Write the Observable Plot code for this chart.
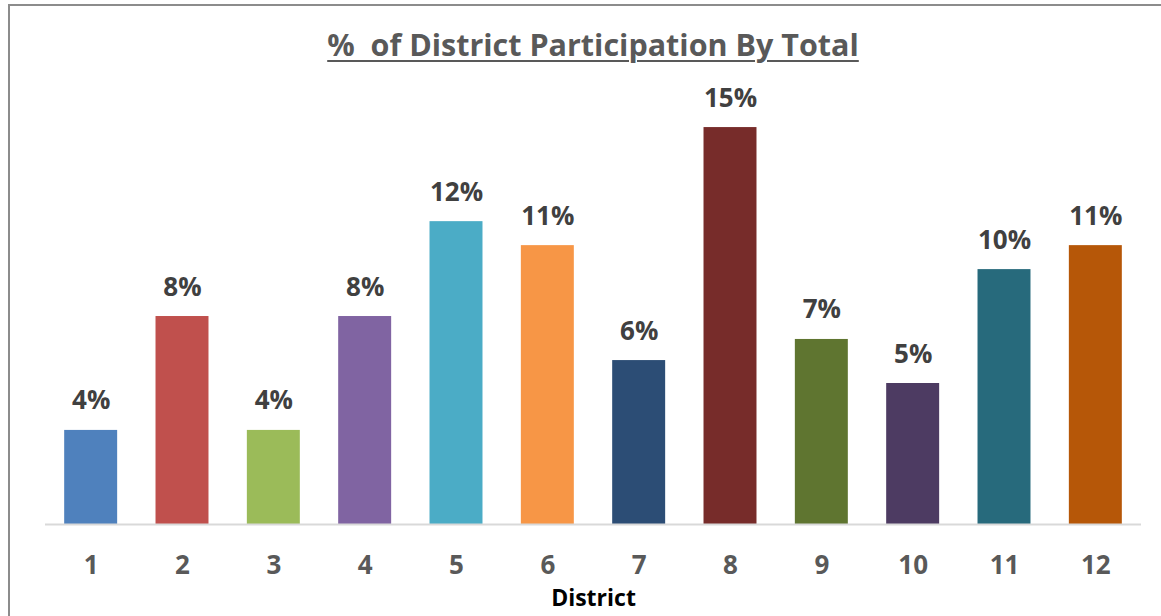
<!DOCTYPE html>
<html>
<head>
<meta charset="utf-8">
<script src="https://cdn.jsdelivr.net/npm/d3@7"></script>
<script src="https://cdn.jsdelivr.net/npm/@observablehq/plot@0.6"></script>
<style>
  html, body { margin: 0; padding: 0; background: #fff; }
  body { width: 1161px; height: 616px; position: relative; overflow: hidden; font-family: "Open Sans", sans-serif; }
  #frame { position: absolute; left: 8px; top: 4px; width: 1200px; height: 700px; border-top: 2px solid #8c8c8c; border-left: 2px solid #8c8c8c; box-sizing: border-box; }
  #title { position: absolute; left: 0; width: 1186px; top: 23px; text-align: center; font-weight: 700; font-size: 30.5px; color: #595959; text-decoration: underline; text-decoration-thickness: 2px; text-underline-offset: 4px; white-space: nowrap; }
  #chart { position: absolute; left: 0; top: 0; }
</style>
</head>
<body>
<div id="frame"></div>
<div id="title">%&nbsp; of District Participation By Total</div>
<div id="chart"></div>
<script>
const districts = ["1","2","3","4","5","6","7","8","9","10","11","12"];
const shares = [3.61, 7.98, 3.61, 7.98, 11.62, 10.70, 6.29, 15.23, 7.10, 5.41, 9.78, 10.70];
const barColors = ["#4F81BD","#C0504D","#9BBB59","#8064A2","#4BACC6","#F79646","#2C4D75","#772C2A","#5F7530","#4D3B62","#276A7C","#B65708"];
const axisTitle = "District";

const data = districts.map((d, i) => ({district: d, share: shares[i], color: barColors[i]}));

const chart = Plot.plot({
  width: 1161,
  height: 616,
  marginLeft: 45,
  marginRight: 20,
  marginTop: 107,
  marginBottom: 92,
  style: {fontFamily: "'Open Sans', sans-serif", background: "transparent"},
  x: {domain: districts, paddingInner: 0.42, paddingOuter: 0.21, round: false, label: null},
  y: {domain: [0, 16], axis: null},
  marks: [
    Plot.barY(data, {x: "district", y: "share", fill: "color"}),
    Plot.ruleY([0], {stroke: "#D9D9D9", strokeWidth: 2}),
    Plot.text(data, {x: "district", y: "share", text: d => Math.round(d.share) + "%", lineAnchor: "bottom", dy: -21, fill: "#404040", fontSize: 26, fontWeight: 700}),
    Plot.axisX({tickSize: 0, tickPadding: 31, fontSize: 26, fontWeight: 700, color: "#595959", label: null}),
    Plot.text([axisTitle], {frameAnchor: "bottom", lineAnchor: "top", dy: 65, fill: "#000", fontSize: 23, fontWeight: 700})
  ]
});
document.getElementById("chart").appendChild(chart);
</script>
</body>
</html>
